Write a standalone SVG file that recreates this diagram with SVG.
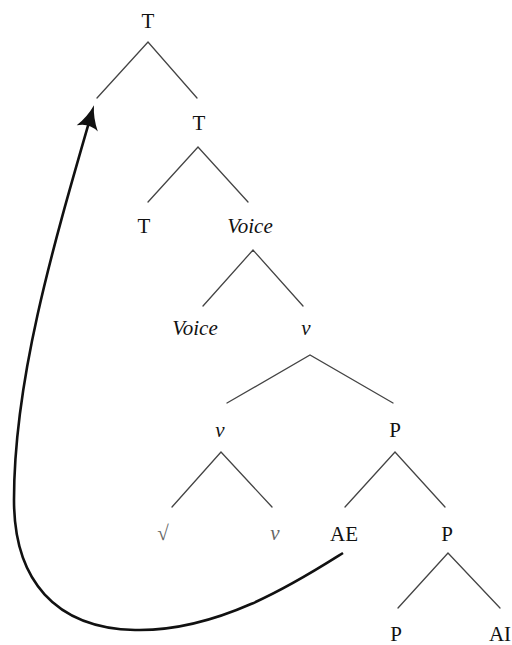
<svg xmlns="http://www.w3.org/2000/svg" width="512" height="645" viewBox="0 0 512 645">
  <style>
    .edge { stroke: #444; stroke-width: 1.3; fill: none; stroke-linecap: round; }
    .move { stroke: #111; stroke-width: 2.6; fill: none; }
  </style>
  <defs>
    <marker id="stealth" markerUnits="userSpaceOnUse" viewBox="-20 -12 28 24" markerWidth="28" markerHeight="24" refX="0" refY="0" orient="auto" overflow="visible">
      <path d="M7,0 Q-6,-3 -17,-11 Q-11,0 -17,11 Q-6,3 7,0 Z" fill="#111"/>
    </marker>
  </defs>
  <rect width="512" height="645" fill="#fff"/>

  <!-- tree branches -->
  <g id="connectors">
    <path class="edge" d="M97,98 L148,42 L197,98"/>
    <path class="edge" d="M148,202 L198,147 L248,202"/>
    <path class="edge" d="M203,306 L253,250 L303,306"/>
    <path class="edge" d="M227,403 L310,355 L393,403"/>
    <path class="edge" d="M172,507 L221,452 L272,507"/>
    <path class="edge" d="M345,507 L395,452 L445,507"/>
    <path class="edge" d="M398,608 L448,553 L500,608"/>
    <!-- movement arrow from AE up to the specifier of the top T -->
    <path class="move" marker-end="url(#stealth)" d="M343,553 C300,580 220,632 135,630 C55,628 14,580 14,500 C14,380 52,250 92,112"/>
  </g>

  <!-- node labels -->
  <g id="n-T-root"><text x="148" y="28" font-size="21" text-anchor="middle" fill="#111" style="font-family:'Liberation Serif',serif">T</text></g>
  <g id="n-T-bar"><text x="199" y="130" font-size="21" text-anchor="middle" fill="#111" style="font-family:'Liberation Serif',serif">T</text></g>
  <g id="n-T-head"><text x="144" y="233" font-size="21" text-anchor="middle" fill="#111" style="font-family:'Liberation Serif',serif">T</text></g>
  <g id="n-Voice-phrase"><text x="250" y="233" font-size="21" text-anchor="middle" fill="#111" font-style="italic" style="font-family:'Liberation Serif',serif">Voice</text></g>
  <g id="n-Voice-head"><text x="195" y="335" font-size="21" text-anchor="middle" fill="#111" font-style="italic" style="font-family:'Liberation Serif',serif">Voice</text></g>
  <g id="n-v-phrase"><text x="306" y="335" font-size="21" text-anchor="middle" fill="#111" font-style="italic" style="font-family:'Liberation Serif',serif">v</text></g>
  <g id="n-v-bar"><text x="220" y="437" font-size="21" text-anchor="middle" fill="#111" font-style="italic" style="font-family:'Liberation Serif',serif">v</text></g>
  <g id="n-P-phrase"><text x="395" y="437" font-size="21" text-anchor="middle" fill="#111" style="font-family:'Liberation Serif',serif">P</text></g>
  <g id="n-root"><text x="163" y="540" font-size="21" text-anchor="middle" fill="#666" style="font-family:'Liberation Serif',serif">√</text></g>
  <g id="n-v-head"><text x="275" y="540" font-size="21" text-anchor="middle" fill="#666" font-style="italic" style="font-family:'Liberation Serif',serif">v</text></g>
  <g id="n-AE"><text x="344" y="541" font-size="21" text-anchor="middle" fill="#111" style="font-family:'Liberation Serif',serif">AE</text></g>
  <g id="n-P-bar"><text x="447" y="541" font-size="21" text-anchor="middle" fill="#111" style="font-family:'Liberation Serif',serif">P</text></g>
  <g id="n-P-head"><text x="396" y="641" font-size="21" text-anchor="middle" fill="#111" style="font-family:'Liberation Serif',serif">P</text></g>
  <g id="n-AI"><text x="500" y="641" font-size="21" text-anchor="middle" fill="#111" style="font-family:'Liberation Serif',serif">AI</text></g>
</svg>
